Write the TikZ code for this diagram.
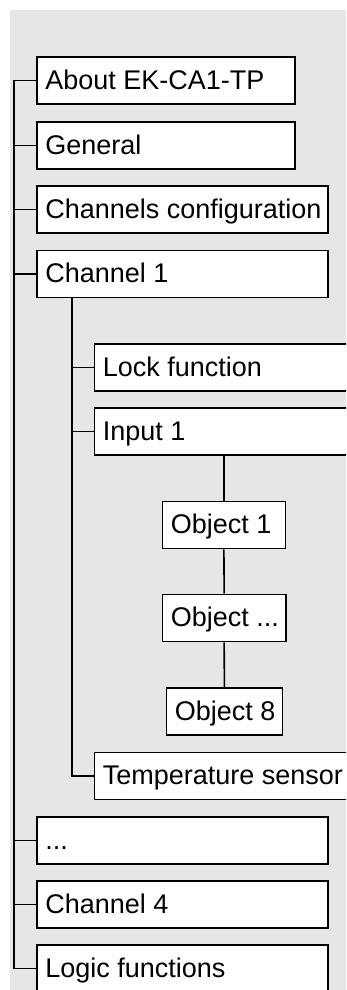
\documentclass[tikz,border=0pt]{standalone}
\usepackage{fontspec}
\setmainfont{Liberation Sans}
\definecolor{panel}{HTML}{E6E6E6}
\begin{document}
\begin{tikzpicture}[x=1pt,y=-1pt,
  % menu box: label set flush left on one line inside a box of given inner width
  box/.style={draw=black, line width=1.6pt, fill=white, anchor=north west,
    inner xsep=8.6pt, inner ysep=0pt, minimum height=47.3pt,
    text height=18pt, text depth=0pt,
    execute at begin node={\hbox to #1\bgroup},
    execute at end node={\hss\egroup},
    font=\fontsize{27}{31}\selectfont},
  link/.style={draw=black, line width=1.6pt}]
\useasboundingbox (0,0) rectangle (346,990);
\begin{scope}
\clip (0,0) rectangle (346,990);
\fill[panel] (10,10) rectangle (346,990);

% top level menu
\node[box=241pt] (about)   at (36,56)    {About EK-CA1-TP};
\node[box=241pt] (general) at (36,121)   {General};
\node[box=274pt] (chcfg)   at (36,185)   {Channels configuration};
\node[box=274pt] (ch1)     at (36,249.5) {Channel 1};
\node[box=274pt] (dots)    at (36,816)   {...};
\node[box=274pt] (ch4)     at (36,880)   {Channel 4};
\node[box=274pt] (logic)   at (36,944)   {Logic functions};

% channel 1 sub menu
\node[box=300pt] (lock) at (93.5,343)   {Lock function};
\node[box=300pt] (in1)  at (93.5,407)   {Input 1};
\node[box=300pt] (temp) at (93.5,751.5) {Temperature sensor};

% objects of input 1
\node[box=106pt]   (obj1) at (161.5,500.5) {Object 1};
\node[box=106.5pt] (objx) at (161.5,593.5) {Object ...};
\node[box=99pt]    (obj8) at (165.5,687)   {Object 8};

% tree lines
\coordinate (trunk) at (14,0);
\coordinate (sub) at (72,0);
\draw[link] (about.west) -- (about.west -| trunk) |- (logic.west);
\foreach \n in {general,chcfg,ch1,dots,ch4}
  \draw[link] (\n.west) -- (\n.west -| trunk);
\draw[link] (ch1.south -| sub) |- (temp.west);
\foreach \n in {lock,in1}
  \draw[link] (\n.west) -- (\n.west -| sub);
\draw[link] (in1.south -| obj1.north) -- (obj1.north);
\draw[link] (obj1.south) -- (objx.north);
\draw[link] (objx.south) -- (obj8.north);
\end{scope}
\end{tikzpicture}
\end{document}
